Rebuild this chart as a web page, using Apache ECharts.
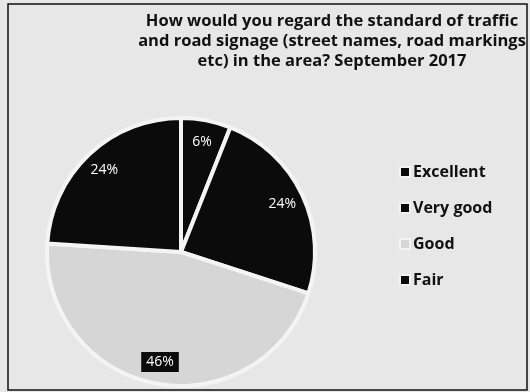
<!DOCTYPE html>
<html>
<head>
<meta charset="utf-8">
<script src="https://cdn.jsdelivr.net/npm/echarts@6/dist/echarts.min.js"></script>
<style>
  html, body { margin: 0; padding: 0; background: #fff; }
  #chart { width: 530px; height: 392px; }
</style>
</head>
<body>
<div id="chart"></div>
<script>
// ratings and their shares (percent)
const ratings = ['Excellent', 'Very good', 'Good', 'Fair'];
const shares = [6, 24, 46, 24];
const sliceColors = ['#0b0b0b', '#0b0b0b', '#d6d6d6', '#0b0b0b'];

const chart = echarts.init(document.getElementById('chart'));

const pieData = ratings.map((name, i) => ({
  name: name,
  value: shares[i],
  itemStyle: { color: sliceColors[i] }
}));

// labels sit near the rim, so they ride on an invisible outer ring
const labelData = ratings.map((name, i) => ({
  name: name,
  value: shares[i],
  label: name === 'Good'
    ? { backgroundColor: '#0b0b0b', padding: [3, 5] }
    : {}
}));

const option = {
  backgroundColor: '#e7e7e7',
  animation: false,
  title: {
    text: 'How would you regard the standard of traffic\nand road signage (street names, road markings\netc) in the area? September 2017',
    left: 327,
    top: 6,
    textAlign: 'center',
    textStyle: {
      fontFamily: 'Open Sans',
      fontWeight: 'bold',
      fontSize: 16.5,
      lineHeight: 20,
      color: '#111'
    }
  },
  legend: {
    orient: 'vertical',
    left: 394,
    top: 159,
    itemWidth: 10,
    itemHeight: 10,
    itemGap: 20,
    icon: 'rect',
    data: ratings,
    textStyle: {
      fontFamily: 'Open Sans',
      fontWeight: 'bold',
      fontSize: 16,
      color: '#111',
      padding: [0, 0, 0, -2]
    }
  },
  graphic: [{
    type: 'rect',
    shape: { x: 8, y: 4, width: 519, height: 386 },
    style: { fill: 'none', stroke: '#111', lineWidth: 1.5 },
    silent: true
  }],
  series: [
    {
      name: 'rating',
      type: 'pie',
      center: [181, 252],
      radius: 134,
      startAngle: 90,
      clockwise: true,
      label: { show: false },
      labelLine: { show: false },
      itemStyle: { borderColor: '#f4f4f4', borderWidth: 4 },
      data: pieData
    },
    {
      name: 'labels',
      type: 'pie',
      center: [181, 252],
      radius: [84, 134],
      startAngle: 90,
      clockwise: true,
      silent: true,
      itemStyle: { color: 'rgba(0,0,0,0)' },
      label: {
        show: true,
        position: 'inside',
        formatter: '{c}%',
        color: '#fff',
        fontFamily: 'Open Sans',
        fontSize: 14
      },
      labelLine: { show: false },
      data: labelData
    }
  ]
};

chart.setOption(option);
</script>
</body>
</html>
